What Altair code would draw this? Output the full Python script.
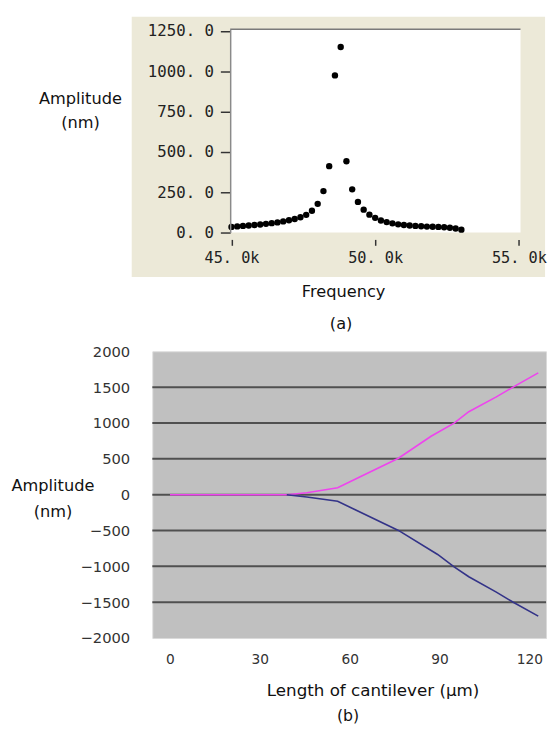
import altair as alt
import pandas as pd

# ---------------- panel (a): resonance spectrum ----------------
freq_hz = [45000, 45200, 45400, 45600, 45800, 46000, 46200, 46400, 46600, 46800,
           47000, 47200, 47400, 47600, 47800, 48000, 48200, 48400, 48600, 48800,
           49000, 49200, 49400, 49600, 49800, 50000, 50200, 50400, 50600, 50800,
           51000, 51200, 51400, 51600, 51800, 52000, 52200, 52400, 52600, 52800,
           53000]
amp_nm = [35, 38, 41, 44, 47, 50, 54, 58, 63, 69,
          76, 84, 95, 110, 135, 178, 257, 412, 975, 1151,
          442, 268, 190, 142, 111, 91, 75, 65, 57, 51,
          47, 44, 41, 39, 37, 36, 35, 33, 30, 25,
          18]
freq_ticks = [45000, 50000, 55000]
amp_ticks = [0, 250, 500, 750, 1000, 1250]

# ---------------- panel (b): cantilever deflection ----------------
upper_len_um = [0, 39, 45.7, 56, 63.2, 76.3, 87.2, 94.9, 99.8, 109, 115.6, 123]
upper_amp_nm = [0, 0, 27, 96, 243, 508, 815, 998, 1158, 1364, 1525, 1700]
lower_len_um = [39, 45.7, 56, 61, 76.3, 89.4, 94.9, 99.8, 109, 114.5, 123]
lower_amp_nm = [0, -32, -92, -192, -499, -834, -1007, -1145, -1360, -1497, -1694]
len_ticks = [0, 30, 60, 90, 120]
defl_ticks = [-2000, -1500, -1000, -500, 0, 500, 1000, 1500, 2000]
defl_grid = [-1500, -1000, -500, 0, 500, 1000, 1500]

SANS = "DejaVu Sans"
MONO = "DejaVu Sans Mono"
one = pd.DataFrame({"k": [0]})

# ---- top panel ----
W1, H1 = 375, 207
AX1 = 79.3  # where the 45.0k / y axis sits inside the view
xs1 = alt.Scale(domain=[42246, 55057], nice=False, zero=False)
ys1 = alt.Scale(domain=[0, 1261], nice=False, zero=False)

panel_bg = alt.Chart(one).mark_rect(color="#ECE9D8").encode(
    x=alt.value(-21), x2=alt.value(400), y=alt.value(-12.7), y2=alt.value(252.3))
plot_bg = alt.Chart(one).mark_rect(color="white").encode(
    x=alt.value(AX1), x2=alt.value(W1), y=alt.value(0), y2=alt.value(H1))
top_line = alt.Chart(one).mark_rule(color="#7a7a7a", strokeWidth=1.5).encode(
    x=alt.value(AX1), x2=alt.value(W1), y=alt.value(0))

df_a = pd.DataFrame({"f": freq_hz, "a": amp_nm})
pts = alt.Chart(df_a).mark_circle(size=42, color="black", opacity=1).encode(
    x=alt.X("f:Q", scale=xs1, axis=alt.Axis(
        values=freq_ticks,
        labelExpr="replace(format(datum.value/1000, '.1f'), '.', '. ') + 'k'",
        labelFont=MONO, labelFontSize=15.5, labelColor="#222",
        labelFlush=False, labelOverlap=False,
        domain=False, tickSize=6, tickColor="#333", tickWidth=1.5,
        offset=7, labelPadding=6, grid=False, zindex=1,
        title="Frequency", titleFont=SANS, titleFontSize=16.5,
        titleFontWeight="normal", titleColor="#111",
        titleX=194.3, titleY=58, titleAlign="center", titleBaseline="alphabetic")),
    y=alt.Y("a:Q", scale=ys1, axis=alt.Axis(
        values=amp_ticks,
        labelExpr="replace(format(datum.value, '.1f'), '.', '. ')",
        labelFont=MONO, labelFontSize=16, labelColor="#222",
        tickSize=10, tickColor="#333", tickWidth=1.5, labelPadding=7,
        domainColor="#8a8a8a", domainWidth=1.5, offset=-AX1, grid=False, zindex=1,
        title=["Amplitude", "(nm)"], titleAngle=0, titleAlign="center",
        titleBaseline="middle", titleX=-153, titleY=71, titleLineHeight=24,
        titleFont=SANS, titleFontSize=16.5, titleFontWeight="normal",
        titleColor="#111")),
)
cap_a = alt.Chart(pd.DataFrame({"t": ["(a)"]})).mark_text(
    font=SANS, fontSize=16.5, color="#111", baseline="middle", align="center").encode(
    text="t:N", x=alt.value(192.3), y=alt.value(300.3))

top = alt.layer(panel_bg, plot_bg, top_line, pts, cap_a).properties(
    width=W1, height=H1, view=alt.ViewBackground(stroke=None))

# ---- bottom panel ----
W2, H2 = 401, 292
xs2 = alt.Scale(domain=[-5.9, 125.6], nice=False, zero=False)
ys2 = alt.Scale(domain=[-2000, 2000], nice=False, zero=False)

x_axis2 = alt.Axis(values=len_ticks, ticks=False, domain=False, grid=False,
                   labelFont=SANS, labelFontSize=14, labelColor="#333",
                   labelFlush=False, labelOverlap=False, labelPadding=15, zindex=1,
                   title="Length of cantilever (μm)", titleFont=SANS,
                   titleFontSize=17, titleFontWeight="normal", titleColor="#111",
                   titleX=224.3, titleY=59, titleAlign="center",
                   titleBaseline="alphabetic")
y_axis2 = alt.Axis(values=defl_ticks, format="d", ticks=False, domain=False,
                   grid=False, labelFont=SANS, labelFontSize=15, labelColor="#333",
                   labelPadding=23, zindex=1,
                   title=["Amplitude", "(nm)"], titleAngle=0, titleAlign="center",
                   titleBaseline="middle", titleX=-101.7, titleY=137,
                   titleLineHeight=26, titleFont=SANS, titleFontSize=16.5,
                   titleFontWeight="normal", titleColor="#111")

grid = alt.Chart(pd.DataFrame({"g": defl_grid})).mark_rule(
    color="#505050", strokeWidth=2).encode(y=alt.Y("g:Q", scale=ys2, axis=y_axis2))

df_up = pd.DataFrame({"x": upper_len_um, "y": upper_amp_nm})
df_lo = pd.DataFrame({"x": lower_len_um, "y": lower_amp_nm})

line_up = alt.Chart(df_up).mark_line(color="#EE44EE", strokeWidth=1.6).encode(
    x=alt.X("x:Q", scale=xs2, axis=x_axis2),
    y=alt.Y("y:Q", scale=ys2, axis=y_axis2))
line_lo = alt.Chart(df_lo).mark_line(color="#333388", strokeWidth=1.6).encode(
    x=alt.X("x:Q", scale=xs2, axis=x_axis2),
    y=alt.Y("y:Q", scale=ys2, axis=y_axis2))
cap_b = alt.Chart(pd.DataFrame({"t": ["(b)"]})).mark_text(
    font=SANS, fontSize=16, color="#111", baseline="middle", align="center").encode(
    text="t:N", x=alt.value(199.3), y=alt.value(371))

bottom = alt.layer(grid, line_up, line_lo, cap_b).properties(
    width=W2, height=H2,
    view=alt.ViewBackground(fill="#C0C0C0", stroke="#DADADA"))

chart = alt.vconcat(top, bottom, spacing=11).properties(
    padding={"left": 2, "top": 2, "right": 0, "bottom": 0}
).configure(font=SANS)

chart.save("out.html", embed_options={"renderer": "svg", "actions": False})
